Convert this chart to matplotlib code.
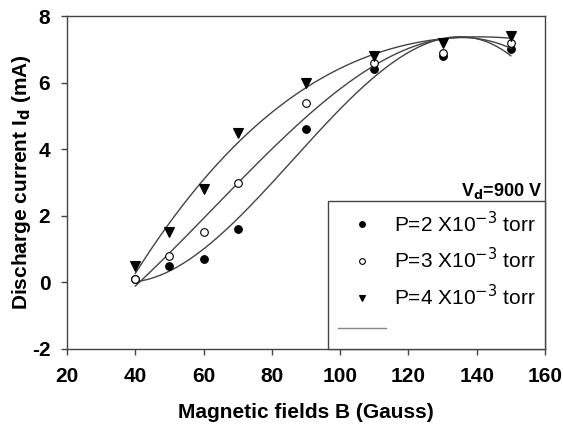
import numpy as np
import matplotlib.pyplot as plt

plt.rcParams['font.family'] = ['Liberation Sans', 'DejaVu Sans']
plt.rcParams['axes.unicode_minus'] = False

# Magnetic field (Gauss)
field_b = [40, 50, 60, 70, 90, 110, 130, 150]

# Discharge current (mA) for each pressure
current_p2 = [0.1, 0.5, 0.7, 1.6, 4.6, 6.4, 6.8, 7.0]
current_p3 = [0.1, 0.8, 1.5, 3.0, 5.4, 6.6, 6.9, 7.2]
current_p4 = [0.5, 1.5, 2.8, 4.5, 6.0, 6.8, 7.2, 7.4]

labels = ['P=2 X10$^{-3}$ torr', 'P=3 X10$^{-3}$ torr', 'P=4 X10$^{-3}$ torr']

fig = plt.figure(figsize=(5.63, 4.25), dpi=100)
ax = fig.add_axes([0.119, 0.179, 0.849, 0.783])

gray = '#444444'
x_fit = np.linspace(40, 150, 200)
handles = []
series = [(current_p2, 'o', 'black', 5.5), (current_p3, 'o', 'white', 5.5), (current_p4, 'v', 'black', 6.5)]
for y, mk, fc, ms in series:
    # cubic regression through the measured points
    coef = np.polyfit(field_b, y, 3)
    ax.plot(x_fit, np.polyval(coef, x_fit), color=gray, lw=1.0)
    h, = ax.plot(field_b, y, linestyle='none', marker=mk, markersize=ms,
                 markerfacecolor=fc, markeredgecolor='black', markeredgewidth=0.8)
    handles.append(h)

line_handle, = ax.plot([], [], color='#888888', lw=1.0)

ax.set_xlim(20, 160)
ax.set_ylim(-2, 8)
ax.set_xticks(range(20, 161, 20))
ax.set_yticks(range(-2, 9, 2))
ax.tick_params(direction='out', length=4, width=1, color=gray, labelsize=15)
ax.tick_params(axis='x', pad=9)
ax.tick_params(axis='y', pad=8)
for lbl in ax.get_xticklabels() + ax.get_yticklabels():
    lbl.set_fontweight('bold')
for sp in ax.spines.values():
    sp.set_color(gray)
    sp.set_linewidth(1.0)

ax.set_xlabel('Magnetic fields B (Gauss)', fontsize=15, fontweight='bold', labelpad=12)
ax.set_ylabel('Discharge current I$_\\mathbf{d}$ (mA)', fontsize=15, fontweight='bold', labelpad=-1)

ax.text(0.995, 0.459, 'V$_\\mathbf{d}$=900 V', transform=ax.transAxes, ha='right', va='baseline',
        fontsize=13, fontweight='bold')

leg = ax.legend(handles + [line_handle], labels + [''], loc='lower right',
                bbox_to_anchor=(1.0, 0.0), borderaxespad=0, fontsize=15, markerscale=0.75,
                fancybox=False, edgecolor=gray, framealpha=1, handlelength=2.3,
                labelspacing=0.55, borderpad=0.45, handletextpad=0.4)
leg.get_frame().set_linewidth(1.0)

fig.savefig('out.png', dpi=100)
